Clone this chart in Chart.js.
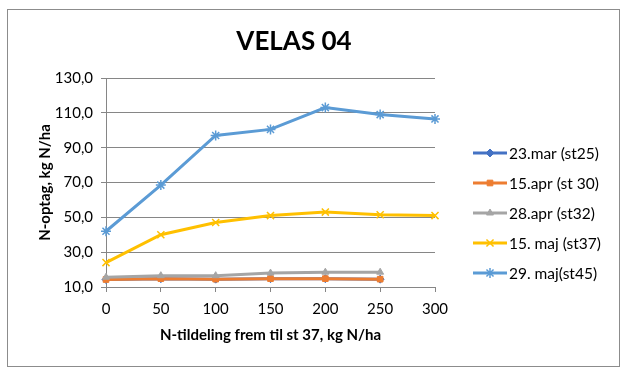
<!DOCTYPE html>
<html><head><meta charset="utf-8">
<script src="https://cdn.jsdelivr.net/npm/chart.js@4/dist/chart.umd.min.js"></script>
<style>html,body{margin:0;padding:0;background:#fff}#wrap{width:631px;height:378px}</style>
</head><body><div id="wrap"><canvas id="c" width="631" height="378"></canvas></div>
<script>
const categories = ['0','50','100','150','200','250','300'];
const seriesNames = ['23.mar (st25)','15.apr (st 30)','28.apr (st32)','15. maj (st37)','29. maj(st45)'];
const mar23 = [14.3,14.8,14.5,14.8,14.8,14.5,null];
const apr15 = [14.3,14.8,14.5,14.8,14.8,14.5,null];
const apr28 = [15.6,16.5,16.5,18.0,18.5,18.5,null];
const maj15 = [24.0,40.0,47.0,51.0,53.0,51.5,51.0];
const maj29 = [42.0,68.5,97.0,100.5,113.0,109.0,106.5];
const yTicks = [10,30,50,70,90,110,130];
const chartTitle = 'VELAS 04';

const FONT = "Lato, 'Open Sans', sans-serif";
const colors = ['#4472C4','#ED7D31','#A5A5A5','#FFC000','#5B9BD5'];
const styles = ['rectRot','rect','triangle','crossRot','star'];
const radii = [4,4,4,5,5];
const values = [mar23, apr15, apr28, maj15, maj29];

const datasets = values.map((v,i)=>({
  label: seriesNames[i],
  data: v,
  order: 5 - i,
  borderColor: colors[i],
  backgroundColor: colors[i],
  borderWidth: 3,
  pointStyle: styles[i],
  pointRadius: radii[i],
  pointBorderWidth: (i>=3)?1.5:1,
  pointBorderColor: colors[i],
  pointBackgroundColor: colors[i],
  tension: 0,
  spanGaps: false
}));

const framePlugin = {
  id: 'frame',
  beforeDraw(chart){
    const ctx = chart.ctx;
    ctx.save();
    ctx.fillStyle = '#fff';
    ctx.fillRect(0,0,chart.width,chart.height);
    ctx.strokeStyle = '#8c8c8c';
    ctx.lineWidth = 1;
    ctx.strokeRect(7.5, 9.5, 612, 357);
    ctx.fillStyle = '#000';
    ctx.font = "bold 26px " + FONT;
    ctx.textAlign = 'center';
    ctx.textBaseline = 'middle';
    ctx.fillText(chartTitle, 294, 42);
    ctx.restore();
  }
};

const legendPlugin = {
  id: 'xlLegend',
  afterDraw(chart){
    const ctx = chart.ctx;
    ctx.save();
    chart.data.datasets.forEach((ds,i)=>{
      const y = 153 + i*30;
      ctx.strokeStyle = ds.borderColor;
      ctx.lineWidth = 3;
      ctx.beginPath();
      ctx.moveTo(473, y);
      ctx.lineTo(507, y);
      ctx.stroke();
      ctx.fillStyle = ds.borderColor;
      ctx.strokeStyle = ds.borderColor;
      ctx.lineWidth = ds.pointBorderWidth;
      Chart.helpers.drawPoint(ctx, {pointStyle: ds.pointStyle, radius: ds.pointRadius, rotation: 0, borderWidth: ds.pointBorderWidth}, 490, y);
      ctx.fillStyle = '#000';
      ctx.font = "15.5px " + FONT;
      ctx.textAlign = 'left';
      ctx.textBaseline = 'middle';
      ctx.fillText(ds.label, 509, y+1);
    });
    ctx.restore();
  }
};

new Chart(document.getElementById('c'), {
  type: 'line',
  data: { labels: categories, datasets },
  plugins: [framePlugin, legendPlugin],
  options: {
    responsive: false,
    devicePixelRatio: 1,
    animation: false,
    layout: { padding: { left: 8, right: 196, top: 78, bottom: 12 } },
    plugins: {
      legend: { display: false },
      tooltip: { enabled: false },
      title: { display: false }
    },
    scales: {
      x: {
        type: 'category',
        offset: false,
        afterFit(s){ s.height = 79; },
        grid: { display: true, drawOnChartArea: false, drawTicks: true, tickLength: 5, color: '#868686' },
        border: { display: true, color: '#868686', width: 1 },
        ticks: { color: '#000', font: { family: FONT, size: 15 }, padding: 8, maxRotation: 0, autoSkip: false },
        title: { display: true, text: 'N-tildeling frem til st 37, kg N/ha', color: '#000',
                 font: { family: FONT, size: 15, weight: 'bold' }, padding: { top: 0, bottom: 22 } }
      },
      y: {
        min: 10, max: 130,
        afterFit(s){ s.width = 98; },
        afterBuildTicks(s){ s.ticks = yTicks.map(v=>({value:v})); },
        grid: { color: '#868686', tickLength: 5, drawTicks: true },
        border: { display: true, color: '#868686', width: 1 },
        ticks: { color: '#000', font: { family: FONT, size: 15 }, padding: 8,
                 callback: v => v.toFixed(1).replace('.', ',') },
        title: { display: true, text: 'N-optag, kg N/ha', color: '#000',
                 font: { family: FONT, size: 15, weight: 'bold' }, padding: { top: 28, bottom: 0 } }
      }
    }
  }
});
</script>
</body></html>
